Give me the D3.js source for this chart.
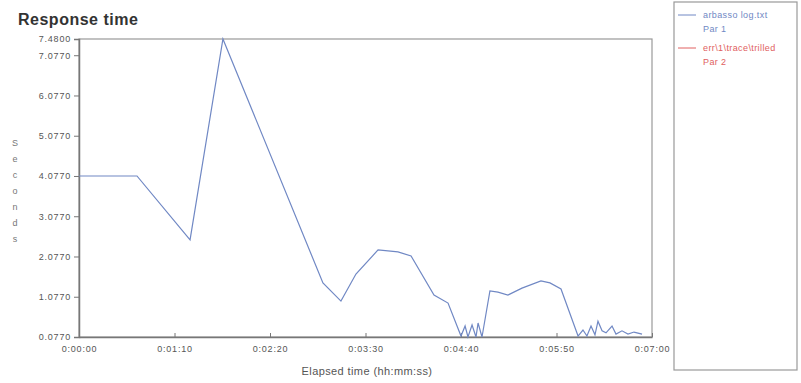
<!DOCTYPE html>
<html><head><meta charset="utf-8">
<script src="https://cdn.jsdelivr.net/npm/d3@7"></script>
<style>body{margin:0;background:#fff;} svg{display:block;}</style>
</head><body>
<svg id="c" width="801" height="383"></svg>
<script>
// elapsed seconds
const times = [0,42.5,81.4,105.5,178.8,192.0,203.0,219.2,233.8,243.4,260.2,270.5,280.0,283.0,285.1,288.1,291.0,292.5,295.4,301.2,307.1,314.4,324.7,338.6,345.2,353.3,365.8,369.4,372.3,375.3,378.2,380.4,383.4,386.3,390.7,393.6,398.0,402.4,406.8,412.7];
const seconds = [4.077,4.077,2.49,7.48,1.42,0.97,1.64,2.24,2.19,2.09,1.12,0.92,0.10,0.35,0.077,0.375,0.077,0.425,0.077,1.22,1.19,1.12,1.29,1.47,1.42,1.27,0.10,0.25,0.10,0.35,0.13,0.47,0.23,0.18,0.35,0.15,0.23,0.15,0.20,0.15];
const yTicks = [0.077,1.077,2.077,3.077,4.077,5.077,6.077,7.077,7.48];
const yTickLabels = ["0.0770","1.0770","2.0770","3.0770","4.0770","5.0770","6.0770","7.0770","7.4800"];
const xTicks = [0,70,140,210,280,350,420];
const xTickLabels = ["0:00:00","0:01:10","0:02:20","0:03:30","0:04:40","0:05:50","0:07:00"];
const legendNames = ["arbasso log.txt","err\\1\\trace\\trilled"];
const legendSub = ["Par 1","Par 2"];
const legendColors = ["#7088c4","#e06060"];

const svg = d3.select("#c");
const L=79,R=652,T=39,B=337;
const x = d3.scaleLinear().domain([0,420]).range([L,R]);
const y = d3.scaleLinear().domain([0.077,7.48]).range([B,T]);
const FF = "Liberation Sans, Arial";

svg.append("text").attr("x",18).attr("y",25).attr("font-family",FF).attr("font-weight","bold")
  .attr("font-size",16).attr("letter-spacing",0.5).attr("fill","#333").text("Response time");

// frame
svg.append("rect").attr("x",L).attr("y",T).attr("width",R-L).attr("height",B-T)
  .attr("fill","none").attr("stroke","#999").attr("stroke-width",1.2);

const ya = svg.append("g").attr("transform",`translate(${L},0)`)
  .call(d3.axisLeft(y).tickValues(yTicks).tickFormat((d,i)=>yTickLabels[i]).tickSize(5).tickPadding(3));
const xa = svg.append("g").attr("transform",`translate(0,${B})`)
  .call(d3.axisBottom(x).tickValues(xTicks).tickFormat((d,i)=>xTickLabels[i]).tickSizeInner(-4).tickSizeOuter(0).tickPadding(9));
[ya,xa].forEach(g=>{
  g.select(".domain").attr("stroke","#777").attr("stroke-width",1.5);
  g.selectAll(".tick line").attr("stroke","#777");
  g.selectAll("text").attr("font-family",FF).attr("font-size",9).attr("letter-spacing",0.8).attr("fill","#555");
});

svg.append("text").attr("x",367).attr("y",375).attr("text-anchor","middle")
  .attr("font-family",FF).attr("font-size",11).attr("letter-spacing",0.4).attr("fill","#555").text("Elapsed time (hh:mm:ss)");

const ylab = svg.append("text").attr("font-family",FF).attr("font-size",9).attr("fill","#777").attr("text-anchor","middle");
"Seconds".split("").forEach((ch,i)=>{
  ylab.append("tspan").attr("x",15).attr("y",146+i*16).text(ch);
});

const line = d3.line().x((d,i)=>x(times[i])).y(d=>y(d));
svg.append("path").datum(seconds).attr("d",line).attr("fill","none")
  .attr("stroke",legendColors[0]).attr("stroke-width",1.2);

// legend
svg.append("rect").attr("x",674).attr("y",2).attr("width",123).attr("height",368)
  .attr("fill","none").attr("stroke","#999").attr("stroke-width",1.2);
legendNames.forEach((n,i)=>{
  const yy = 15+i*33;
  svg.append("line").attr("x1",678).attr("x2",696).attr("y1",yy).attr("y2",yy).attr("stroke",legendColors[i]).attr("stroke-width",1);
  svg.append("text").attr("x",703).attr("y",yy+3).attr("font-family",FF).attr("font-size",9).attr("letter-spacing",0.4)
    .attr("fill",legendColors[i]).text(n);
  svg.append("text").attr("x",703).attr("y",yy+17).attr("font-family",FF).attr("font-size",9).attr("letter-spacing",0.4)
    .attr("fill",legendColors[i]).text(legendSub[i]);
});
</script>
</body></html>
